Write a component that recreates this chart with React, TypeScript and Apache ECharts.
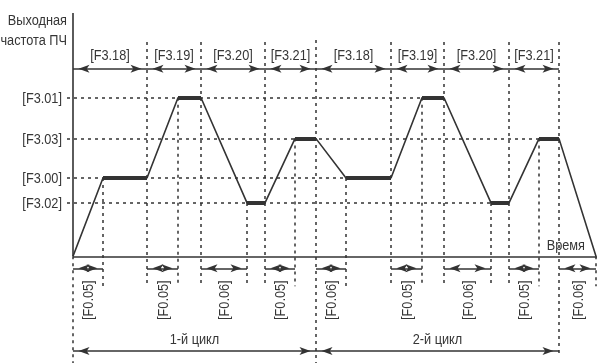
import React, { useEffect, useRef } from "react";
import * as echarts from "echarts";

const FONT = "'Liberation Sans', Arial, sans-serif";
const FONT_SIZE = 15;
const NARROW = 0.85;
const INK = "#333333";
const TXT = "#363636";

// Profile breakpoints: time (x) and output frequency (y)
const times = [0, 30, 74, 105, 128, 174, 192, 222, 243, 273, 318, 349, 371, 418, 436, 466, 486, 523];
const freq = [0, 78.5, 78.5, 159, 159, 53.5, 53.5, 118, 118, 78.5, 78.5, 159, 159, 53.5, 53.5, 118, 118, 0];

// Frequency levels (y axis labels)
const levelNames = ["[F3.02]", "[F3.00]", "[F3.03]", "[F3.01]"];
const levelValues = [53.5, 78.5, 118, 159];

// Phase segments (top)
const phaseEdges = [0, 74, 128, 192, 243, 318, 371, 436, 486];
const phaseLabels = ["[F3.18]", "[F3.19]", "[F3.20]", "[F3.21]", "[F3.18]", "[F3.19]", "[F3.20]", "[F3.21]"];

// Accel/decel ramps (bottom)
const rampStarts = [0, 74, 128, 192, 243, 318, 371, 436, 486];
const rampEnds = [30, 105, 174, 222, 273, 349, 418, 466, 523];
const rampLabels = ["[F0.05]", "[F0.05]", "[F0.06]", "[F0.05]", "[F0.06]", "[F0.05]", "[F0.06]", "[F0.05]", "[F0.06]"];

// Cycles
const cycleEdges = [0, 243, 486];
const cycleLabels = ["1-й цикл", "2-й цикл"];

const yAxisName = "Выходная\nчастота ПЧ";
const xAxisName = "Время";

// Layout levels (data units)
const X_MIN = -73;
const X_MAX = 524;
const Y_MIN = -108;
const Y_MAX = 257;
const Y_AXIS_TOP = 244;
const Y_TOP_LINE = 215;
const Y_PHASE_ARROW = 188;
const Y_PHASE_LABEL = 202;
const Y_RAMP_ARROW = -12;
const Y_RAMP_LABEL = -44;
const Y_TICK_BOTTOM = -30;
const Y_CYCLE_ARROW = -95;
const Y_CYCLE_LABEL = -83;
const Y_BOTTOM = -107;
const X_LEVEL_START = -6;
const X_LABEL_RIGHT = -11;

const ARW = { symbol: "arrow", symbolSize: [6, 11], symbolOffset: [0, 5.5] };

function arrow(a: number, b: number, y: number) {
  return [
    { coord: [a, y], ...ARW },
    { coord: [b, y], ...ARW },
  ];
}

export default function App() {
  const ref = useRef<HTMLDivElement>(null);
  useEffect(() => {
    document.body.style.margin = "0";
    const chart = echarts.init(ref.current!, null, { renderer: "svg" });

    const dashed = { type: [3, 4] as any, color: INK, width: 1.5 };

    // plateaus (thick)
    const plateaus: any[] = [];
    for (let i = 0; i < times.length - 1; i++) {
      if (freq[i] > 0 && freq[i] === freq[i + 1]) {
        plateaus.push([{ coord: [times[i], freq[i]] }, { coord: [times[i + 1], freq[i + 1]] }]);
      }
    }

    // guides
    const guides: any[] = [];
    levelValues.forEach((lv) => {
      let last = 0;
      times.forEach((t, i) => {
        if (freq[i] === lv) last = t;
      });
      guides.push([{ coord: [X_LEVEL_START, lv] }, { coord: [last, lv] }]);
    });
    phaseEdges.slice(1).forEach((x) => {
      let bottom = Y_TICK_BOTTOM;
      let top = Y_TOP_LINE;
      if (x === cycleEdges[1]) {
        bottom = Y_BOTTOM;
        top = Y_TOP_LINE + 2;
      }
      if (x === cycleEdges[2]) bottom = Y_CYCLE_ARROW - 5;
      guides.push([{ coord: [x, top] }, { coord: [x, bottom] }]);
    });
    rampEnds.forEach((x) => {
      const i = times.indexOf(x);
      guides.push([{ coord: [x, freq[i]] }, { coord: [x, Y_TICK_BOTTOM] }]);
    });
    guides.push([{ coord: [0, 0] }, { coord: [0, Y_BOTTOM] }]);

    // axes
    const axes: any[] = [
      [{ coord: [0, 0] }, { coord: [X_MAX, 0] }],
      [{ coord: [0, 0] }, { coord: [0, Y_AXIS_TOP] }],
    ];

    // arrows
    const arrows: any[] = [];
    for (let i = 0; i < phaseLabels.length; i++) arrows.push(arrow(phaseEdges[i], phaseEdges[i + 1], Y_PHASE_ARROW));
    for (let i = 0; i < rampStarts.length; i++) arrows.push(arrow(rampStarts[i], rampEnds[i], Y_RAMP_ARROW));
    for (let i = 0; i < cycleLabels.length; i++) arrows.push(arrow(cycleEdges[i], cycleEdges[i + 1], Y_CYCLE_ARROW));

    chart.setOption({
      animation: false,
      grid: { left: 0, right: 0, top: 0, bottom: 0 },
      xAxis: {
        type: "value",
        min: X_MIN,
        max: X_MAX,
        show: false,
        splitLine: { show: false },
      },
      yAxis: {
        type: "value",
        min: Y_MIN,
        max: Y_MAX,
        show: false,
        splitLine: { show: false },
      },
      series: [
        {
          type: "line",
          name: "guides",
          data: [],
          silent: true,
          markLine: {
            silent: true,
            symbol: "none",
            label: { show: false },
            lineStyle: dashed,
            data: guides,
          },
        },
        {
          type: "line",
          name: "axes",
          data: [],
          silent: true,
          markLine: {
            silent: true,
            symbol: "none",
            label: { show: false },
            lineStyle: { color: INK, width: 1.6, type: "solid" },
            data: axes,
          },
        },
        {
          type: "line",
          name: "profile",
          data: times.map((t, i) => [t, freq[i]]),
          symbol: "none",
          silent: true,
          lineStyle: { color: INK, width: 1.6 },
          markLine: {
            silent: true,
            symbol: "none",
            label: { show: false },
            lineStyle: { color: INK, width: 4, type: "solid" },
            data: plateaus,
          },
        },
        {
          type: "line",
          name: "arrows",
          data: [],
          silent: true,
          markLine: {
            silent: true,
            label: { show: false },
            lineStyle: { color: INK, width: 1.5, type: "solid" },
            itemStyle: { color: INK },
            data: arrows,
          },
        },
      ],
    });

    // Texts, positioned through the chart's scales
    type T = { text: string; x: number; y: number; align?: string; rotate?: number; lineHeight?: number };
    const items: T[] = [];
    phaseLabels.forEach((l, i) =>
      items.push({ text: l, x: (phaseEdges[i] + phaseEdges[i + 1]) / 2, y: Y_PHASE_LABEL })
    );
    cycleLabels.forEach((l, i) =>
      items.push({ text: l, x: (cycleEdges[i] + cycleEdges[i + 1]) / 2, y: Y_CYCLE_LABEL })
    );
    rampLabels.forEach((l, i) =>
      items.push({ text: l, x: (rampStarts[i] + rampEnds[i]) / 2, y: Y_RAMP_LABEL, rotate: Math.PI / 2 })
    );
    levelNames.forEach((l, i) => items.push({ text: l, x: X_LABEL_RIGHT, y: levelValues[i], align: "right" }));
    items.push({ text: xAxisName, x: 512, y: 12, align: "right" });
    items.push({ text: yAxisName, x: X_LEVEL_START, y: 227.5, align: "right", lineHeight: 19.5 });

    const graphic = items.map((it) => {
      const p = chart.convertToPixel({ gridIndex: 0 }, [it.x, it.y]) as number[];
      return {
        type: "text",
        x: p[0],
        y: p[1],
        scaleX: NARROW,
        rotation: it.rotate || 0,
        silent: true,
        style: {
          text: it.text,
          x: 0,
          y: 0,
          fill: TXT,
          fontSize: FONT_SIZE,
          fontFamily: FONT,
          align: it.align || "center",
          verticalAlign: "middle",
          textAlign: it.align || "center",
          textVerticalAlign: "middle",
          lineHeight: it.lineHeight,
        },
      };
    });
    chart.setOption({ graphic });

    return () => chart.dispose();
  }, []);
  return <div ref={ref} style={{ position: "fixed", left: 0, top: 0, width: 597, height: 364 }} />;
}
